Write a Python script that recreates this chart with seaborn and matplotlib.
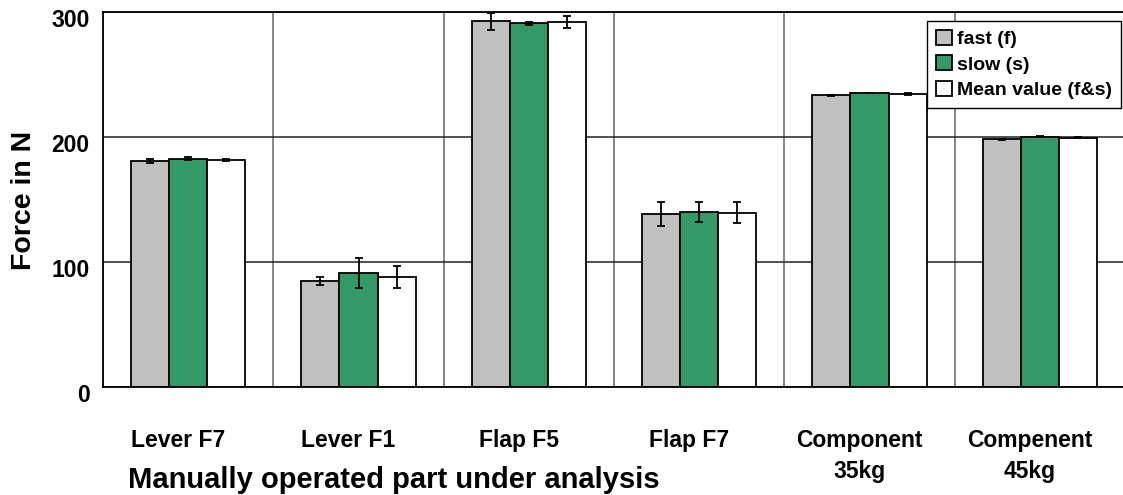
import numpy as np
import pandas as pd
import matplotlib
matplotlib.use("Agg")
import matplotlib.pyplot as plt
import matplotlib.transforms as mtrans
import seaborn as sns

categories = ["Lever F7", "Lever F1", "Flap F5", "Flap F7", "Component\n35kg", "Compenent\n45kg"]
series = ["fast (f)", "slow (s)", "Mean value (f&s)"]
fast_vals = [180.8, 85.0, 292.5, 138.5, 233.3, 198.4]
fast_err = [1.5, 3.0, 7.0, 9.6, 0.5, 0.4]
slow_vals = [182.8, 91.0, 291.0, 140.0, 235.2, 200.3]
slow_err = [0.8, 12.0, 1.3, 8.0, 0.3, 0.3]
mean_vals = [181.6, 88.0, 292.0, 139.4, 234.4, 199.5]
mean_err = [0.8, 8.8, 4.5, 8.5, 0.8, 0.6]
y_ticks = [0, 100, 200, 300]
colors = ["#C0C0C0", "#339966", "#FFFFFF"]

rows = []
for s, vals in zip(series, [fast_vals, slow_vals, mean_vals]):
    for c, v in zip(categories, vals):
        rows.append({"category": c, "series": s, "force": v})
df = pd.DataFrame(rows)

sns.set_style("white")
plt.rcParams["font.family"] = ["Liberation Sans", "DejaVu Sans"]
plt.rcParams["font.weight"] = "bold"
plt.rcParams["text.color"] = "black"
plt.rcParams["xtick.color"] = "black"
plt.rcParams["ytick.color"] = "black"
plt.rcParams["xtick.labelcolor"] = "black"
plt.rcParams["ytick.labelcolor"] = "black"

W, H = 1123, 495
fig = plt.figure(figsize=(W / 100, H / 100), dpi=100)
ax = fig.add_axes([103 / W, 1 - 387 / H, 1022 / W, 375 / H])

sns.barplot(data=df, x="category", y="force", hue="series", order=categories,
            hue_order=series, palette=colors, saturation=1, width=0.67, gap=0,
            edgecolor="black", linewidth=1.3, errorbar=None, ax=ax)

bar_containers = list(ax.containers)[:3]
for cont, errs in zip(bar_containers, [fast_err, slow_err, mean_err]):
    for bar, e in zip(cont, errs):
        x = bar.get_x() + bar.get_width() / 2
        h = bar.get_height()
        ax.errorbar(x, h, yerr=e, fmt="none", ecolor="black", elinewidth=1.3,
                    capsize=3, capthick=1.3, zorder=5)

ax.set_xlim(-0.5, 5.5)
ax.set_ylim(0, 300)
ax.set_yticks(y_ticks)
ax.set_yticklabels([str(t) for t in y_ticks])
ax.set_xticks(range(len(categories)))
ax.set_xticklabels(categories)
ax.set_xticks(np.arange(-0.5, len(categories), 1), minor=True)
ax.set_xlabel("")
ax.set_ylabel("")

ax.tick_params(axis="x", which="major", length=0, pad=30, labelsize=16.5, labelcolor="black")
ax.tick_params(axis="x", which="minor", length=7.2, width=1.2, color="#555555", direction="out")
ax.tick_params(axis="y", which="major", length=5.8, width=1.2, color="black",
               direction="out", pad=4, labelsize=16.5, labelcolor="black")

ax.grid(axis="y", which="major", color="#222222", lw=1.1)
ax.grid(axis="x", which="minor", color="#666666", lw=1.1)
ax.grid(axis="x", which="major", visible=False)
ax.set_axisbelow(True)

for side in ["left", "bottom", "top"]:
    ax.spines[side].set_visible(True)
    ax.spines[side].set_color("black")
    ax.spines[side].set_linewidth(1.3)
ax.spines["right"].set_visible(False)

for lbl in ax.get_xticklabels():
    lbl.set_transform(lbl.get_transform() + mtrans.ScaledTranslation(-10 / 100, 0, fig.dpi_scale_trans))
    lbl.set_linespacing(1.45)
    lbl.set_fontweight("bold")
    lbl.set_color("black")
for lbl in ax.get_yticklabels():
    lbl.set_transform(lbl.get_transform() + mtrans.ScaledTranslation(0, -6 / 100, fig.dpi_scale_trans))
    lbl.set_fontweight("bold")
    lbl.set_color("black")

handles, labels = ax.get_legend_handles_labels()
if ax.legend_ is not None:
    ax.legend_.remove()
leg = ax.legend(handles[:3], labels[:3], loc="upper right",
                bbox_to_anchor=(1121 / W, 1 - 21 / H), bbox_transform=fig.transFigure,
                borderaxespad=0, frameon=True, fancybox=False, framealpha=1,
                edgecolor="black", prop={"size": 14, "weight": "bold"},
                handlelength=0.85, handleheight=0.8, handletextpad=0.25,
                labelspacing=0.38, borderpad=0.45)
leg.get_frame().set_linewidth(1.0)
leg.set_zorder(10)
for t in leg.get_texts():
    t.set_color("black")

fig.text(24 / W, 1 - 200 / H, "Force in N", rotation=90, ha="center", va="center",
         fontsize=20.5, fontweight="bold", color="black")
fig.text(128 / W, 1 - 488 / H, "Manually operated part under analysis", ha="left",
         va="baseline", fontsize=21, fontweight="bold", color="black")

fig.savefig("out.png", dpi=100)
